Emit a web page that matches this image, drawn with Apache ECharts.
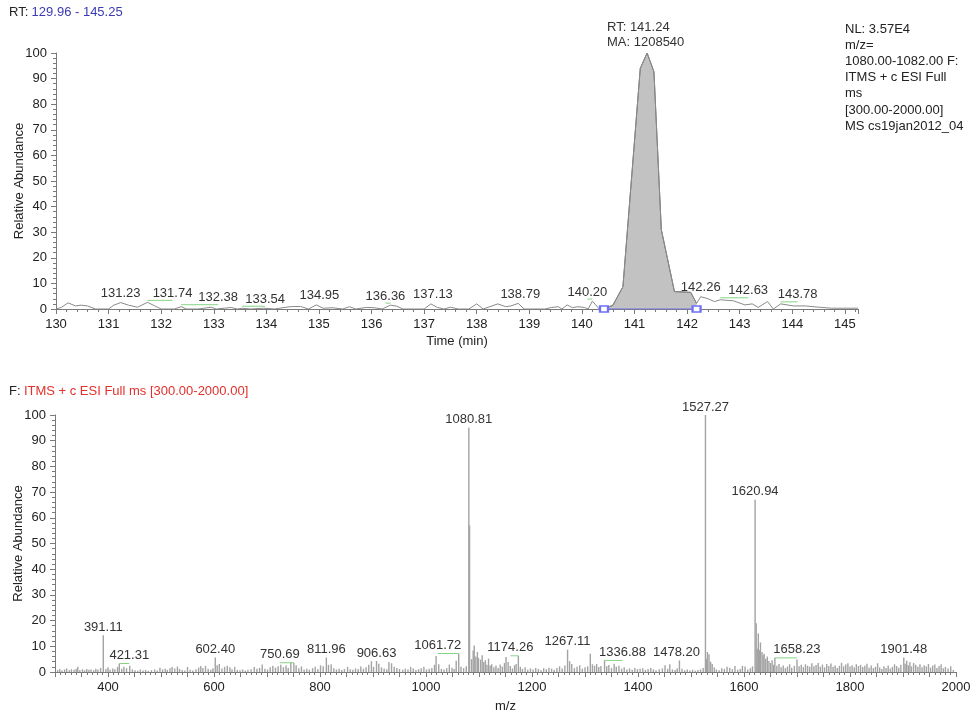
<!DOCTYPE html>
<html><head><meta charset="utf-8">
<script src="https://cdn.jsdelivr.net/npm/echarts@6/dist/echarts.min.js"></script>
<style>html,body{margin:0;padding:0;background:#fff}#c{width:973px;height:712px}</style>
</head><body><div id="c"></div>
<script>
// ---------------- DATA ----------------
const rtRangeText = '129.96 - 145.25';
const peakRT = 141.24;
const peakArea = 1208540;
const infoLines = ['NL: 3.57E4', 'm/z=', '1080.00-1082.00 F:', 'ITMS + c ESI Full', 'ms', '[300.00-2000.00]', 'MS cs19jan2012_04'];
const scanFilter = 'ITMS + c ESI Full ms [300.00-2000.00]';

// chromatogram (time in min, relative abundance %)
const traceTime = [130.00,130.10,130.23,130.37,130.48,130.60,130.75,131.00,131.10,131.23,131.38,131.55,131.74,131.88,132.00,132.25,132.38,132.48,132.70,132.95,133.05,133.20,133.33,133.45,133.54,133.70,133.95,134.15,134.45,134.65,134.80,134.95,135.08,135.25,135.45,135.58,135.70,135.90,136.05,136.20,136.36,136.48,136.60,137.00,137.13,137.25,137.38,137.50,137.65,137.85,138.00,138.12,138.25,138.40,138.55,138.65,138.79,138.90,139.30,139.42,139.55,139.62,139.72,139.82,139.92,140.05,140.12,140.20,140.33,140.42,140.59,140.78,141.11,141.24,141.37,141.51,141.76,142.07,142.18,142.26,142.40,142.52,142.63,142.88,143.10,143.24,143.35,143.53,143.64,143.78,144.02,144.25,144.45,144.75,145.25];
const traceAbund = [0,0.6,2.4,1.2,1.5,1.2,0,0,1.5,2.5,1.5,0.7,2.6,1.2,0,0,0.9,0,0,0.7,0,0.3,0.6,0,0.3,0,0.3,0,0.9,1.0,0,1.6,0.3,0.5,0,0.9,0,0.6,0.5,0,1.5,1.1,0,0,2.0,0.6,0,0.7,0,0,2.0,0,0.9,2.0,0.9,1.2,2.2,0,0,0.6,0.9,0,1.6,0.5,0.9,0.6,0,3.1,0,0,1.5,8.7,94,100,92.7,31,6.8,6.5,2.2,4.8,4.0,2.9,3.6,3.2,1.6,2.0,0.6,2.9,0,2.0,1.2,1.2,0.8,0.3,0.3];
const peakStart = 140.42, peakEnd = 142.18;
const traceLabelTimes = [131.23,131.74,132.38,133.54,134.95,136.36,137.13,138.79,140.20,142.26,142.63,143.78];

// mass spectrum [m/z, relative abundance %]
const spectrum = [
[305,0.8],[309,1.2],[313,0.6],[318,1.0],[322,1.4],[327,0.7],[331,1.1],[336,0.9],[340,1.3],[343,2.0],[347,0.8],[352,1.1],[356,0.6],[360,1.2],[364,0.9],[368,1.0],[373,0.7],[377,1.3],[381,1.0],[386,1.6],[391.11,14.3],[396,1.2],[400,1.8],[404,0.9],[409,1.4],[413,1.1],[418,2.0],[421.31,3.3],[426,1.3],[430,2.0],[435,1.5],[441,2.4],[446,1.0],[451,0.7],[456,0.5],[461,1.0],[466,0.6],[471,0.8],[476,0.5],[482,0.7],[488,1.0],[493,0.6],[498,1.7],[503,1.0],[508,1.3],[512,0.8],[517,1.5],[521,1.9],[526,1.4],[531,2.1],[535,1.2],[540,0.8],[545,0.6],[550,2.0],[555,0.9],[560,0.6],[566,1.1],[571,1.7],[575,2.3],[579,1.6],[584,2.4],[589,1.2],[594,0.9],[598,1.5],[602.40,5.6],[606,2.6],[610,3.1],[615,1.4],[620,2.0],[625,2.4],[630,1.8],[634,1.1],[639,2.0],[644,0.8],[649,0.7],[654,1.0],[659,0.6],[664,0.9],[670,1.1],[676,1.9],[681,1.3],[686,1.6],[691,2.9],[696,1.3],[701,1.0],[706,1.8],[711,2.4],[716,1.7],[721,2.2],[726,2.8],[731,1.9],[736,2.5],[740,1.6],[745,3.8],[750.69,3.6],[755,2.6],[760,1.5],[765,2.2],[770,1.0],[775,1.3],[780,0.9],[786,1.5],[791,2.0],[796,1.2],[801,2.6],[806,2.2],[811.96,5.6],[816,2.8],[821,3.0],[826,1.5],[831,1.0],[836,1.3],[841,0.8],[846,1.2],[852,2.0],[857,1.1],[862,0.9],[867,1.4],[872,1.2],[877,2.1],[882,1.3],[887,1.8],[892,2.8],[897,4.2],[901,2.0],[906.63,4.3],[911,3.2],[916,1.8],[921,1.4],[926,1.1],[930,3.9],[935,3.4],[940,2.0],[945,1.6],[950,1.2],[956,0.9],[961,1.3],[966,1.0],[971,2.0],[976,1.4],[981,0.8],[986,1.1],[991,1.5],[996,2.0],[1001,1.0],[1006,1.3],[1011,1.6],[1016,2.8],[1019,6.2],[1024,3.0],[1029,1.2],[1034,1.0],[1039,1.5],[1044,2.9],[1049,1.7],[1053,1.2],[1057,4.4],[1061.72,7.2],[1066,2.0],[1071,1.5],[1076,2.2],[1080.81,95],[1082.2,57],[1086,5.0],[1089,8.4],[1091,10.3],[1094,6.0],[1097,7.8],[1099,5.5],[1103,4.8],[1106,6.5],[1109,3.9],[1112,4.6],[1115,2.8],[1118,5.2],[1121,2.5],[1124,3.0],[1128,1.8],[1132,2.5],[1136,1.6],[1140,2.9],[1144,2.1],[1148,3.5],[1151,5.8],[1155,3.9],[1159,2.3],[1163,1.4],[1167,2.6],[1170,3.1],[1174.26,6.3],[1178,2.0],[1182,1.2],[1187,1.8],[1192,0.9],[1197,1.4],[1202,1.0],[1207,1.6],[1212,1.2],[1217,0.8],[1222,1.5],[1227,1.1],[1232,1.7],[1237,1.3],[1242,0.9],[1247,1.6],[1252,2.2],[1257,1.4],[1262,2.5],[1267.11,8.7],[1271,4.2],[1275,3.1],[1280,1.5],[1285,2.0],[1290,2.6],[1295,1.3],[1300,1.8],[1305,2.2],[1310,7.1],[1314,3.0],[1318,2.4],[1322,3.1],[1326,1.9],[1330,2.3],[1336.88,4.5],[1341,2.2],[1345,2.7],[1350,1.5],[1355,3.2],[1359,2.0],[1364,2.4],[1369,1.3],[1374,1.8],[1379,1.0],[1384,1.4],[1389,0.9],[1394,1.6],[1399,1.1],[1404,1.3],[1409,1.5],[1414,0.8],[1419,1.2],[1424,1.6],[1429,1.0],[1434,0.7],[1440,1.1],[1446,1.4],[1451,2.6],[1456,1.2],[1460,3.0],[1465,1.0],[1470,0.8],[1474,1.5],[1478.20,4.5],[1483,1.3],[1488,0.7],[1493,1.0],[1498,0.6],[1503,0.9],[1508,0.5],[1513,0.8],[1518,1.0],[1523,1.6],[1527.27,100],[1529,5.0],[1531,7.8],[1534,6.9],[1537,4.0],[1540,3.1],[1544,1.8],[1548,1.0],[1553,0.7],[1558,1.5],[1563,1.2],[1568,2.0],[1573,1.6],[1578,1.1],[1583,2.3],[1588,0.9],[1593,1.2],[1597,2.4],[1602,2.1],[1607,1.0],[1612,1.5],[1616,2.2],[1620.94,67],[1623,19],[1625,9.0],[1627,15],[1629,8.5],[1631,11.5],[1634,7.8],[1636,6.5],[1638,7.1],[1641,5.2],[1644,6.0],[1647,4.3],[1650,3.5],[1653,4.6],[1656,2.8],[1658.23,5.5],[1662,2.4],[1666,3.1],[1670,1.8],[1674,2.5],[1678,1.5],[1682,2.1],[1686,3.0],[1690,1.7],[1695,2.4],[1700,4.9],[1704,2.2],[1708,2.8],[1712,1.9],[1716,3.0],[1720,2.4],[1724,2.0],[1728,3.4],[1732,2.2],[1736,2.7],[1740,3.5],[1744,2.1],[1748,2.9],[1752,1.8],[1756,3.1],[1760,2.3],[1764,3.3],[1768,2.0],[1772,2.5],[1776,1.6],[1780,2.4],[1784,3.6],[1788,2.2],[1792,2.9],[1796,3.4],[1800,2.1],[1804,2.6],[1808,1.8],[1812,3.0],[1816,2.3],[1820,2.8],[1824,1.9],[1828,2.4],[1832,3.2],[1836,1.7],[1840,2.5],[1844,1.5],[1848,2.0],[1852,3.4],[1856,1.8],[1860,1.2],[1864,2.2],[1868,1.6],[1872,2.5],[1876,1.4],[1880,2.0],[1884,3.0],[1888,2.3],[1892,1.7],[1896,2.8],[1901.48,5.6],[1904,3.2],[1907,4.4],[1910,2.6],[1913,3.8],[1916,2.2],[1920,3.5],[1924,2.8],[1928,2.0],[1932,3.0],[1936,1.8],[1940,2.6],[1944,2.2],[1948,3.1],[1952,1.7],[1956,2.5],[1960,2.9],[1964,1.6],[1968,2.3],[1972,3.0],[1976,1.5],[1980,2.0],[1985,1.4],[1990,2.2],[1995,0.8]
];
const spectrumLabelMz = [391.11,421.31,602.40,750.69,811.96,906.63,1061.72,1080.81,1174.26,1267.11,1336.88,1478.20,1527.27,1620.94,1658.23,1901.48];

// ---------------- STYLE / LAYOUT ----------------
const FONT = '"Liberation Sans", Arial, Helvetica, sans-serif';
const FS = 13;
const traceLabelShift = [0,25,37,23,3,-5,2,2,-5,0,28,17];      // px offset of label from its peak
const spectrumLabelShift = [0,10,0,-14,0,0,-21,0,-8,0,18,-3,0,0,22,0];
const AXIS_COLOR = '#7a7a7a';
const TEXT_COLOR = '#222';
const LEADER_COLOR = '#86d486';

// ---------------- BUILD ----------------
const tracePts = traceTime.map((t, i) => [t, traceAbund[i]]);
const peakPts = tracePts.filter(p => p[0] >= peakStart && p[0] <= peakEnd);
const traceAt = t => traceAbund[traceTime.indexOf(t)];
const specAt = mz => spectrum.find(p => p[0] === mz)[1];

function labelRenderer(shifts, labelDy, lineDy) {
  return function (params, api) {
    const x = api.value(0), y = api.value(1);
    const p = api.coord([x, y]);
    const dx = shifts[params.dataIndex];
    const children = [];
    if (Math.abs(dx) > 4) {
      children.push({ type: 'line', shape: { x1: p[0], y1: p[1] + lineDy, x2: p[0] + dx, y2: p[1] + lineDy },
        style: { stroke: LEADER_COLOR, lineWidth: 1 } });
    }
    children.push({ type: 'text', style: { text: x.toFixed(2), x: p[0] + dx, y: p[1] + labelDy,
      align: 'center', verticalAlign: 'middle', fontSize: FS, fontFamily: FONT, fill: '#333' } });
    return { type: 'group', children };
  };
}

function xAxisBase(extra) {
  return Object.assign({
    type: 'value',
    axisLine: { show: true, lineStyle: { color: AXIS_COLOR, width: 1 } },
    axisTick: { show: true, length: 5, lineStyle: { color: AXIS_COLOR } },
    minorTick: { show: true, splitNumber: 5, length: 3, lineStyle: { color: AXIS_COLOR } },
    axisLabel: { color: TEXT_COLOR, fontSize: FS, fontFamily: FONT, margin: 9, showMaxLabel: false },
    splitLine: { show: false },
    nameLocation: 'middle',
    nameTextStyle: { color: TEXT_COLOR, fontSize: FS, fontFamily: FONT }
  }, extra);
}
function yAxisBase(extra) {
  return Object.assign({
    type: 'value', min: 0, max: 100, interval: 10,
    axisLine: { show: true, lineStyle: { color: AXIS_COLOR, width: 1 } },
    axisTick: { show: true, length: 5, lineStyle: { color: AXIS_COLOR } },
    minorTick: { show: true, splitNumber: 5, length: 3, lineStyle: { color: AXIS_COLOR } },
    axisLabel: { color: TEXT_COLOR, fontSize: FS, fontFamily: FONT, margin: 9 },
    splitLine: { show: false },
    name: 'Relative Abundance', nameLocation: 'middle', nameRotate: 90, nameGap: 30, nameMoveOverlap: false,
    nameTextStyle: { color: TEXT_COLOR, fontSize: FS, fontFamily: FONT }
  }, extra);
}

const chart = echarts.init(document.getElementById('c'), null, { renderer: 'canvas' });
chart.setOption({
  animation: false,
  backgroundColor: '#fff',
  grid: [
    { left: 56, right: 115, top: 53, height: 256, outerBoundsMode: 'none', containLabel: false },
    { left: 55, right: 17, top: 415, height: 257, outerBoundsMode: 'none', containLabel: false }
  ],
  xAxis: [
    xAxisBase({ gridIndex: 0, min: 130, max: 145.25, interval: 1, name: 'Time (min)', nameGap: 26 }),
    xAxisBase({ gridIndex: 1, min: 300, max: 2000, interval: 50, name: 'm/z', nameGap: 28,
      axisLabel: { color: TEXT_COLOR, fontSize: FS, fontFamily: FONT, margin: 9, showMaxLabel: true,
        formatter: v => (v % 200 === 0 ? String(v) : '') } })
  ],
  yAxis: [ yAxisBase({ gridIndex: 0 }), yAxisBase({ gridIndex: 1 }) ],
  graphic: [
    { type: 'text', left: 9, top: 6, style: { text: '{k|RT:} {v|' + rtRangeText + '}',
      rich: { k: { fill: '#222', fontSize: FS, fontFamily: FONT }, v: { fill: '#3a3ab4', fontSize: FS, fontFamily: FONT } } } },
    { type: 'text', left: 607, top: 20, style: { text: 'RT: ' + peakRT.toFixed(2) + '\nMA: ' + peakArea,
      fill: '#333', fontSize: FS, fontFamily: FONT, lineHeight: 15 } },
    { type: 'text', left: 845, top: 21, style: { text: infoLines.join('\n'),
      fill: '#222', fontSize: FS, fontFamily: FONT, lineHeight: 16.2 } },
    { type: 'text', left: 9, top: 385, style: { text: '{k|F:} {v|' + scanFilter + '}',
      rich: { k: { fill: '#222', fontSize: FS, fontFamily: FONT }, v: { fill: '#e2302c', fontSize: FS, fontFamily: FONT } } } }
  ],
  series: [
    { type: 'line', xAxisIndex: 0, yAxisIndex: 0, data: peakPts, symbol: 'none', silent: true, z: 2,
      lineStyle: { color: '#6e6e6e', width: 1 }, areaStyle: { color: '#c2c2c2', opacity: 1 } },
    { type: 'line', xAxisIndex: 0, yAxisIndex: 0, data: tracePts, symbol: 'none', silent: true, z: 3,
      lineStyle: { color: '#8a8a8a', width: 1 } },
    { type: 'line', xAxisIndex: 0, yAxisIndex: 0, data: [[peakStart, 0], [peakEnd, 0]], silent: true, z: 4,
      symbol: 'emptyRect', symbolSize: [8, 6], showAllSymbol: true,
      lineStyle: { color: '#6f6ff5', width: 1 }, itemStyle: { color: '#6f6ff5', borderColor: '#6f6ff5' } },
    { type: 'custom', xAxisIndex: 0, yAxisIndex: 0, silent: true, z: 5, clip: false,
      data: traceLabelTimes.map(t => [t, traceAt(t)]), encode: { x: 0, y: 1 },
      renderItem: labelRenderer(traceLabelShift, -9, -2) },
    { type: 'bar', xAxisIndex: 1, yAxisIndex: 1, data: spectrum, barWidth: 1.4, silent: true, z: 3,
      itemStyle: { color: '#a3a3a3' } },
    { type: 'custom', xAxisIndex: 1, yAxisIndex: 1, silent: true, z: 5, clip: false,
      data: spectrumLabelMz.map(m => [m, specAt(m)]), encode: { x: 0, y: 1 },
      renderItem: labelRenderer(spectrumLabelShift, -8, 0) }
  ]
});
</script>
</body></html>
